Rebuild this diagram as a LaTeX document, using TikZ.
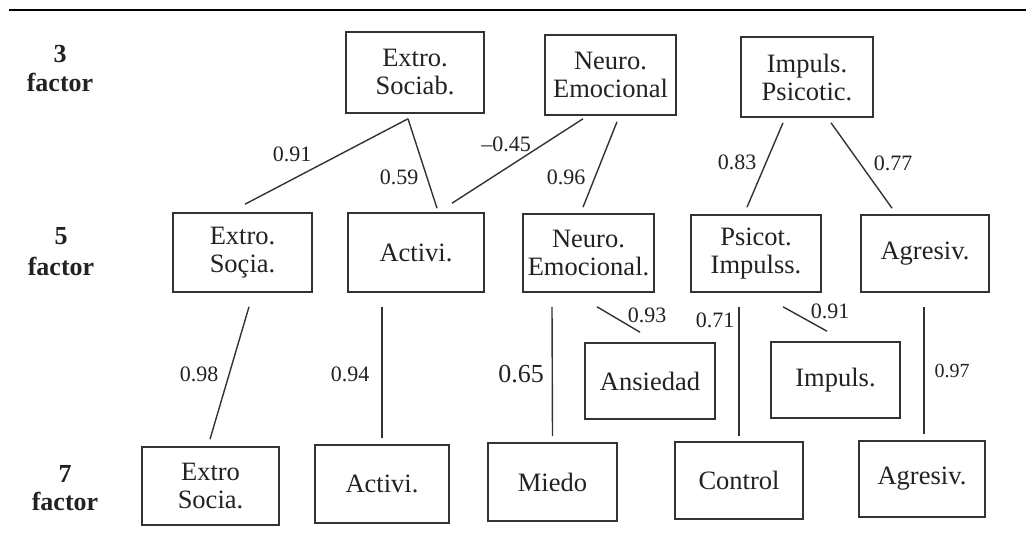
\documentclass[tikz,border=0pt]{standalone}
\usepackage{fontspec}
\setmainfont{Liberation Serif}
\usetikzlibrary{calc}
\definecolor{ink}{HTML}{222222}
\definecolor{rule}{HTML}{333333}
\begin{document}
\begin{tikzpicture}[x=1pt,y=-1pt,
  box/.style={draw=rule,line width=1.6pt,text=ink,align=center,inner sep=0pt,
    font=\fontsize{26.5}{28}\selectfont},
  link/.style={draw=rule,line width=1.4pt},
  coef/.style={text=ink,inner sep=0pt,font=\fontsize{22}{24}\selectfont},
  lvl/.style={text=ink,inner sep=0pt,anchor=base,font=\fontsize{26}{28}\selectfont\bfseries}]
\useasboundingbox[fill=white] (0,0) rectangle (1026,540);
% heading rule
\draw[line width=2.2pt,black] (9,10) -- (1026,10);

% level labels
\node[lvl] (l3n) at (60,63) {3};
\node[lvl] (l3f) at (60,92) {factor};
\node[lvl] (l5n) at (61,245) {5};
\node[lvl] (l5f) at (61,276) {factor};
\node[lvl] (l7n) at (65,482) {7};
\node[lvl] (l7f) at (65,510) {factor};

% three-factor level
\node[box,minimum width=138pt,minimum height=81pt] (es3) at (415,72.5) {Extro.\\Sociab.};
\node[box,minimum width=131pt,minimum height=80pt] (ne3) at (610.5,75) {Neuro.\\Emocional};
\node[box,minimum width=132pt,minimum height=80pt] (ip3) at (807,77) {Impuls.\\Psicotic.};

% five-factor level
\node[box,minimum width=139pt,minimum height=79pt] (es5) at (242.5,252.5) {Extro.\\Soçia.};
\node[box,minimum width=136pt,minimum height=79pt] (ac5) at (416,252.5) {Activi.};
\node[box,minimum width=131pt,minimum height=78pt] (ne5) at (588.5,253) {Neuro.\\Emocional.};
\node[box,minimum width=130pt,minimum height=77pt] (pi5) at (756,253.5) {Psicot.\\Impulss.};
\node[box,minimum width=128pt,minimum height=77pt] (ag5) at (925,253.5) {Agresiv.};

% intermediate boxes
\node[box,minimum width=130pt,minimum height=76pt] (an) at (650,381) {Ansiedad};
\node[box,minimum width=129pt,minimum height=76pt] (im) at (835.5,380) {Impuls.};

% seven-factor level
\node[box,minimum width=137pt,minimum height=78pt] (es7) at (210.5,486) {Extro\\Socia.};
\node[box,minimum width=134pt,minimum height=78pt] (ac7) at (382,484) {Activi.};
\node[box,minimum width=129pt,minimum height=78pt] (mi) at (552.5,482) {Miedo};
\node[box,minimum width=128pt,minimum height=77pt] (co) at (739,480.5) {Control};
\node[box,minimum width=126pt,minimum height=76pt] (ag7) at (922,479) {Agresiv.};

% loadings between levels
\draw[link] ($(es3.south)+(-7,5)$) -- ($(es5.north)+(2.5,-8)$);
\draw[link] ($(es3.south)+(-7,5)$) -- ($(ac5.north)+(21,-4)$);
\draw[link] ($(ne3.south)+(-27.5,3)$) -- ($(ac5.north)+(36,-9)$);
\draw[link] ($(ne3.south)+(6.5,6)$) -- ($(ne5.north)+(-5.5,-6)$);
\draw[link] ($(ip3.south)+(-24,5)$) -- ($(pi5.north)+(-9,-7)$);
\draw[link] ($(ip3.south)+(24,5)$) -- ($(ag5.north)+(-33,-6)$);
\draw[link] ($(es5.south)+(6.5,14)$) -- ($(es7.north)+(-0.5,-7)$);
\draw[link] ($(ac5.south)+(-34,14)$) -- ($(ac7.north)+(0,-6)$);
\draw[link] ($(ne5.south)+(-36.5,14)$) -- ($(mi.north)+(0,-6)$);
\draw[link] ($(ne5.south)+(8.5,14)$) -- ($(an.north)+(-10,-10)$);
\draw[link] ($(pi5.south)+(-17,14)$) -- ($(co.north)+(0,-5)$);
\draw[link] ($(pi5.south)+(27,14)$) -- ($(im.north)+(-8.5,-10)$);
\draw[link] ($(ag5.south)+(-1,14)$) -- ($(ag7.north)+(2,-6)$);

% coefficients
\node[coef] (c1) at (292,154) {0.91};
\node[coef] (c2) at (399,177) {0.59};
\node[coef] (c3) at (506,144) {–0.45};
\node[coef] (c4) at (566,177) {0.96};
\node[coef] (c5) at (737,162) {0.83};
\node[coef] (c6) at (893,163) {0.77};
\node[coef] (c7) at (199,374) {0.98};
\node[coef] (c8) at (350,374) {0.94};
\node[coef,font=\fontsize{26}{28}\selectfont] (c9) at (521,374) {0.65};
\node[coef] (c10) at (647,315) {0.93};
\node[coef] (c11) at (715,320) {0.71};
\node[coef] (c12) at (830,311) {0.91};
\node[coef,font=\fontsize{20}{22}\selectfont] (c13) at (952,371) {0.97};
\end{tikzpicture}
\end{document}
